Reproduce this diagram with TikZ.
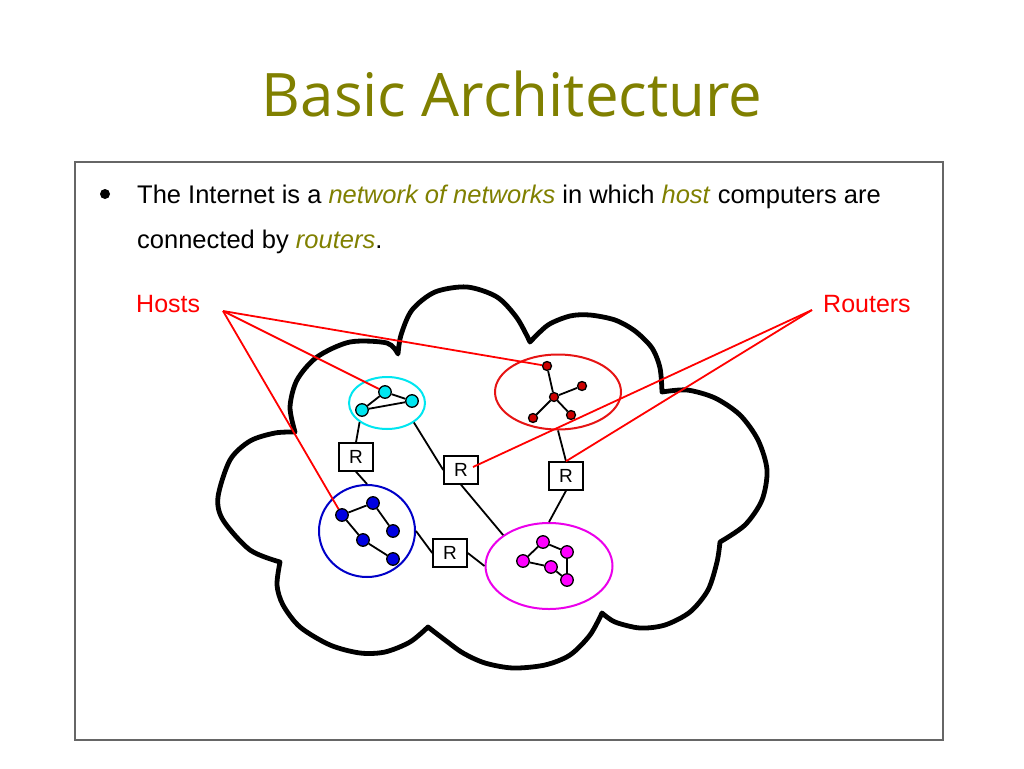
\documentclass[tikz,border=0pt]{standalone}
\usepackage{fontspec}
\setmainfont{Liberation Sans}
\newfontfamily\titlefont{Open Sans}
\usetikzlibrary{positioning,shapes.geometric}
\definecolor{olivetext}{RGB}{128,128,0}
\definecolor{lanred}{RGB}{230,20,20}
\definecolor{hostred}{RGB}{205,0,0}
\definecolor{lanblue}{RGB}{0,0,200}
\definecolor{hostblue}{RGB}{0,0,225}
\definecolor{lancyan}{RGB}{0,230,240}
\definecolor{lanmagenta}{RGB}{235,0,235}
\definecolor{hostmagenta}{RGB}{255,0,255}
\newcommand{\keyword}[1]{\textcolor{olivetext}{\textit{#1}}}
\tikzset{
  link/.style={line width=1.8pt,draw=black},
  pointer/.style={line width=1.8pt,draw=red},
  cloud edge/.style={line width=4.8pt,line join=round,line cap=round},
  lan/.style={ellipse,line width=2pt,inner sep=0pt},
  host/.style={circle,draw=black,line width=1.3pt,inner sep=0pt,minimum size=12.5pt},
  hub host/.style={host,minimum size=9pt,fill=hostred},
  router/.style={draw=black,line width=1.5pt,fill=white,minimum width=34pt,minimum height=28pt,
    inner sep=0pt,font=\fontsize{19}{19}\selectfont}
}

\begin{document}
\begin{tikzpicture}[x=1pt,y=-1pt]
    \fill[white] (0,0) rectangle (1024,768);
    \useasboundingbox (0,0) rectangle (1024,768);
    % title and text
    \node[anchor=base,inner sep=0pt,text=olivetext,font=\titlefont\fontsize{60}{60}\selectfont] (title) at (512,116) {Basic Architecture};
    \draw[black!60,line width=1.2pt] (75,162) rectangle (943,740);
    \node[circle,fill=black,inner sep=0pt,minimum size=10pt] (bullet) at (105,194) {};
    \node[anchor=base west,inner sep=0pt,font=\fontsize{25.5}{30}\selectfont] (line1) at (137,203)
      {The Internet is a \keyword{network of networks} in which \keyword{host} computers are};
    \node[anchor=base west,inner sep=0pt,font=\fontsize{25.5}{30}\selectfont] (line2) at (137,248)
      {connected by \keyword{routers}.};
    \node[anchor=base west,inner sep=0pt,text=red,font=\fontsize{25}{25}\selectfont] (hosts) at (136,312) {Hosts};
    \node[anchor=base west,inner sep=0pt,text=red,font=\fontsize{25}{25}\selectfont] (routers) at (823,312) {Routers};
    \coordinate (hostsfoot) at (223,311);
    \coordinate (routersfoot) at (812,310);
    % the internet cloud
    \draw[cloud edge]
      plot[smooth] coordinates {(398,354) (401,335) (412,310) (435,292) (467,287) (497,297) (517,318) (530,342)}
      -- plot[smooth] coordinates {(530,342) (548,325) (570,316) (590,315) (615,320) (635,331) (652,348) (660,368) (662,392)}
      -- plot[smooth] coordinates {(662,392) (687,390) (715,398) (740,415) (758,440) (767,470) (762,500) (745,525) (720,542)}
      -- plot[smooth] coordinates {(720,542) (717,562) (708,590) (690,612) (665,625) (640,628) (615,622) (602,613)}
      -- plot[smooth] coordinates {(602,613) (590,635) (570,655) (545,665) (513,668) (485,663) (463,653) (445,640) (428,627)}
      -- plot[smooth] coordinates {(428,627) (410,642) (385,652) (360,653) (330,645) (300,627) (283,605) (277,585) (280,562)}
      -- plot[smooth] coordinates {(280,562) (250,550) (223,520) (218,497) (230,460) (250,441) (275,433) (295,432)}
      -- plot[smooth] coordinates {(295,432) (290,407) (297,380) (317,357) (350,342) (387,343) (398,354)}
      -- cycle;
    % networks
    \node[lan,draw=lancyan,minimum width=76pt,minimum height=52pt] (lancyan) at (387,403) {};
    \node[lan,draw=lanred,minimum width=126pt,minimum height=75pt] (lanred) at (558,392) {};
    \node[lan,draw=lanblue,minimum width=96pt,minimum height=92pt] (lanblue) at (367,531) {};
    \node[lan,draw=lanmagenta,minimum width=127pt,minimum height=86pt] (lanmagenta) at (549,566) {};
    % routers
    \node[router] (r1) at (356,457) {R};
    \node[router] (r2) at (461,470) {R};
    \node[router] (r3) at (566,476) {R};
    \node[router] (r4) at (450,553) {R};
    \draw[link] (lancyan.215) -- (r1.north);
    \draw[link] (r1.south) -- (lanblue.north);
    \draw[link] (lancyan.-36) -- (r2.west);
    \draw[link] (r2.south) -- (lanmagenta.146);
    \draw[link] (lanred.south) -- (r3.north);
    \draw[link] (r3.south) -- (lanmagenta.north);
    \draw[link] (lanblue.east) -- (r4.west);
    \draw[link] (r4.east) -- (lanmagenta.west);
    % hosts
    \node[host,fill=lancyan] (c1) at (385,392) {};
    \node[host,fill=lancyan] (c2) at (412,401) {};
    \node[host,fill=lancyan] (c3) at (362,410) {};
    \draw[link] (c1) -- (c2) -- (c3) -- (c1);
    \node[hub host] (hub) at (554,397) {};
    \node[hub host] (d1) at (547,366) {};
    \node[hub host] (d2) at (582,386) {};
    \node[hub host] (d3) at (533,418) {};
    \node[hub host] (d4) at (571,415) {};
    \foreach \d in {d1,d2,d3,d4}
      \draw[link] (hub) -- (\d);
    \node[host,fill=hostblue] (b1) at (342,515) {};
    \node[host,fill=hostblue] (b2) at (373,503) {};
    \node[host,fill=hostblue] (b3) at (393,531) {};
    \node[host,fill=hostblue] (b4) at (363,540) {};
    \node[host,fill=hostblue] (b5) at (393,559) {};
    \draw[link] (b3) -- (b2) -- (b1) -- (b4) -- (b5);
    \node[host,fill=hostmagenta] (m1) at (543,542) {};
    \node[host,fill=hostmagenta] (m2) at (567,552) {};
    \node[host,fill=hostmagenta] (m3) at (523,561) {};
    \node[host,fill=hostmagenta] (m4) at (551,567) {};
    \node[host,fill=hostmagenta] (m5) at (567,580) {};
    \draw[link] (m3) -- (m1) -- (m2) -- (m5) -- (m4) -- (m3);
    % pointers from the labels
    \coordinate (rtip) at ([xshift=12pt,yshift=3pt]r2.center);
    \draw[pointer] (hostsfoot) -- (c1);
    \draw[pointer] (hostsfoot) -- (d1);
    \draw[pointer] (hostsfoot) -- (b1);
    \draw[pointer] (routersfoot) -- (rtip);
    \draw[pointer] (routersfoot) -- (r3.north);
\end{tikzpicture}
\end{document}
